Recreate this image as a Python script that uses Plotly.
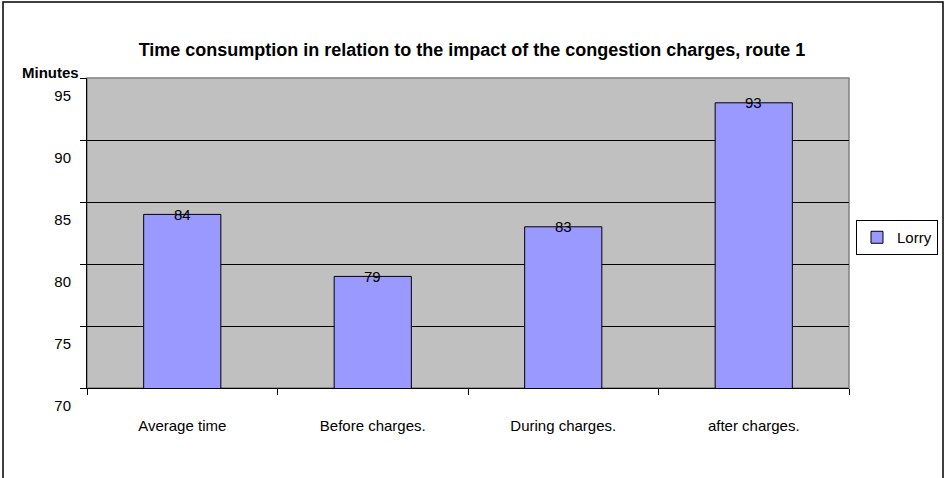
import plotly.graph_objects as go

categories = ["Average time", "Before charges.", "During charges.", "after charges."]
lorry_minutes = [84, 79, 83, 93]
y_ticks = [70, 75, 80, 85, 90, 95]
series_name = "Lorry"
title_text = "Time consumption in relation to the impact of the congestion charges, route 1"
y_title = "Minutes"

FONT = "Arial, Liberation Sans, sans-serif"
W, H = 947, 478
L, R, T, B = 87, 98, 78, 90
pw, ph = W - L - R, H - T - B

def px_x(x):
    return (x - L) / pw

def px_y(y):
    return (H - B - y) / ph

fig = go.Figure()
fig.add_trace(go.Bar(
    x=categories, y=lorry_minutes, name=series_name,
    width=0.405,
    marker=dict(color="#9999FF", line=dict(color="#000000", width=1)),
))

for c, v in zip(categories, lorry_minutes):
    fig.add_annotation(x=c, y=v, text=str(v), showarrow=False, yanchor="middle",
                       xanchor="center", font=dict(family=FONT, size=15, color="#000"))

fig.add_annotation(xref="paper", yref="paper", x=px_x(81), y=px_y(72), text="<b>%s</b>" % y_title,
                   showarrow=False, xanchor="right", yanchor="middle",
                   font=dict(family=FONT, size=15, color="#000"))

# plot area border
fig.add_shape(type="rect", xref="paper", yref="paper", x0=0, x1=1, y0=0, y1=1,
              line=dict(color="#808080", width=1.5), layer="below")
# outer chart border
fig.add_shape(type="rect", xref="paper", yref="paper", x0=px_x(3), x1=px_x(943),
              y0=px_y(482), y1=px_y(2), line=dict(color="#000000", width=1.5))

fig.update_layout(
    width=W, height=H,
    margin=dict(l=L, r=R, t=T, b=B, autoexpand=False),
    paper_bgcolor="#FFFFFF", plot_bgcolor="#C0C0C0",
    font=dict(family=FONT, size=15, color="#000"),
    title=dict(text="<b>%s</b>" % title_text, xref="container", yref="container",
               x=472 / W, y=1 - 50 / H, xanchor="center", yanchor="middle",
               font=dict(family=FONT, size=18, color="#000")),
    showlegend=True,
    legend=dict(x=px_x(856), y=px_y(220), xanchor="left", yanchor="top",
                bgcolor="#FFFFFF", bordercolor="#000000", borderwidth=1,
                font=dict(family=FONT, size=15, color="#000"),
                itemwidth=30, tracegroupgap=0),
    bargap=0.595,
)
fig.update_yaxes(range=[70, 95], tickvals=y_ticks, showgrid=True, gridcolor="#000000", gridwidth=1,
                 showline=True, linecolor="#000000", linewidth=1, ticks="outside", ticklen=6,
                 tickcolor="#000000", ticklabelstandoff=6, ticklabelshift=18, zeroline=False,
                 tickfont=dict(family=FONT, size=15, color="#000"))
fig.update_xaxes(showline=True, linecolor="#000000", linewidth=1, ticks="outside", ticklen=6,
                 tickcolor="#000000", tickson="boundaries", showgrid=False,
                 ticklabelstandoff=24, tickfont=dict(family=FONT, size=15, color="#000"))

fig.write_html("out.html")
